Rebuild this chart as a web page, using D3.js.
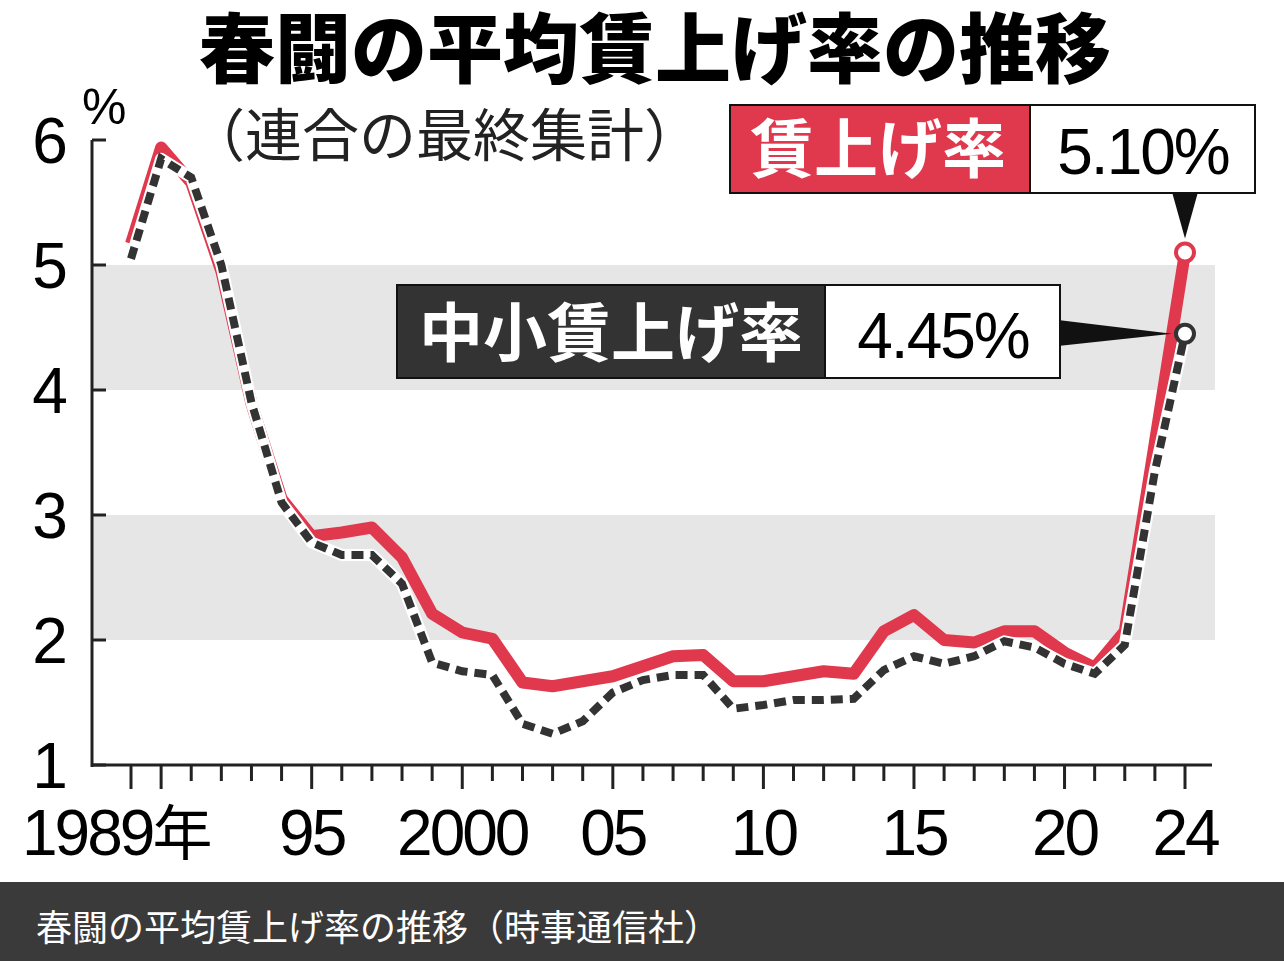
<!DOCTYPE html>
<html><head><meta charset="utf-8">
<script src="https://cdn.jsdelivr.net/npm/d3@7"></script>
<style>body{margin:0;background:#fff}svg{display:block}</style>
</head><body>
<script>
// 連合 最終集計
var years = d3.range(1989, 2025);
var allRates = [5.17,5.94,5.66,4.95,3.89,3.13,2.83,2.86,2.90,2.66,2.21,2.06,2.01,1.66,1.63,1.67,1.71,1.79,1.87,1.88,1.67,1.67,1.71,1.75,1.73,2.07,2.20,2.00,1.98,2.07,2.07,1.90,1.78,2.07,3.58,5.10];
var smeRates = [5.05,5.85,5.70,5.00,3.90,3.10,2.78,2.68,2.68,2.45,1.82,1.75,1.72,1.33,1.25,1.35,1.58,1.68,1.72,1.72,1.45,1.48,1.52,1.52,1.53,1.76,1.87,1.81,1.87,1.99,1.94,1.81,1.73,1.96,3.35,4.45];
var yTicks = [1,2,3,4,5,6];
var bands = [[2,3],[4,5]];
var xLabels = [[1989,"1989年"],[1995,"95"],[2000,"2000"],[2005,"05"],[2010,"10"],[2015,"15"],[2020,"20"],[2024,"24"]];

var W = 1284, H = 961;
var svg = d3.select("body").append("svg").attr("width", W).attr("height", H)
  .style("font-family", "'Noto Sans CJK JP', sans-serif");

var x = d3.scaleLinear().domain([1989, 2024]).range([131, 1185]);
var y = d3.scaleLinear().domain([1, 6]).range([765, 140]);

bands.forEach(function (b) {
  svg.append("rect").attr("x", 92).attr("width", 1215 - 92)
    .attr("y", y(b[1])).attr("height", y(b[0]) - y(b[1])).attr("fill", "#e6e6e6");
});

// axes
svg.append("line").attr("x1", 92).attr("x2", 92).attr("y1", y(6)).attr("y2", y(1) + 2).attr("stroke", "#222").attr("stroke-width", 3);
svg.append("line").attr("x1", 92).attr("x2", 1212).attr("y1", y(1)).attr("y2", y(1)).attr("stroke", "#222").attr("stroke-width", 3);
yTicks.forEach(function (t) {
  svg.append("line").attr("x1", 92).attr("x2", 106).attr("y1", y(t)).attr("y2", y(t)).attr("stroke", "#222").attr("stroke-width", 3);
  svg.append("text").attr("x", 50).attr("y", y(t) + 23).attr("text-anchor", "middle")
    .attr("font-size", 64).attr("font-family", "'Liberation Sans', sans-serif").text(t);
});
years.forEach(function (yr) {
  var long = yr % 5 === 0 || yr === 1989 || yr === 2024;
  svg.append("line").attr("x1", x(yr)).attr("x2", x(yr)).attr("y1", y(1)).attr("y2", y(1) + (long ? 24 : 16))
    .attr("stroke", "#222").attr("stroke-width", 3);
});
xLabels.forEach(function (l) {
  var t = svg.append("text").attr("y", 855).attr("font-size", 64)
    .attr("font-family", "'Liberation Sans', sans-serif").attr("letter-spacing", -3);
  if (l[0] === 1989) {
    t.attr("x", 22).attr("text-anchor", "start");
    t.append("tspan").text("1989");
    t.append("tspan").attr("font-family", "'Noto Sans CJK JP'").attr("font-size", 60).text("年");
  } else {
    t.attr("x", x(l[0])).attr("text-anchor", "middle").text(l[1]);
  }
});

var line = d3.line().x(function (d, i) { return x(years[i]); }).y(function (d) { return y(d); });

// red line
svg.append("path").datum(allRates).attr("d", line).attr("fill", "none")
  .attr("stroke", "#e0384d").attr("stroke-width", 12).attr("stroke-linejoin", "round");
// dashed line with white outline
svg.append("path").datum(smeRates).attr("d", line).attr("fill", "none")
  .attr("stroke", "#fff").attr("stroke-width", 12).attr("stroke-linejoin", "round");
svg.append("path").datum(smeRates).attr("d", line).attr("fill", "none")
  .attr("stroke", "#333").attr("stroke-width", 8).attr("stroke-dasharray", "12,7");

// end points
svg.append("circle").attr("cx", x(2024)).attr("cy", y(5.10)).attr("r", 9).attr("fill", "#fff").attr("stroke", "#e0384d").attr("stroke-width", 4);
svg.append("circle").attr("cx", x(2024)).attr("cy", y(4.45)).attr("r", 9).attr("fill", "#fff").attr("stroke", "#333").attr("stroke-width", 4);

// callouts
svg.append("path").attr("d", "M1172,192 L1198,192 L1185," + (y(5.10) - 14) + "Z").attr("fill", "#111");
svg.append("path").attr("d", "M1058,320 L1058,346 L" + (x(2024) - 13) + "," + y(4.45) + "Z").attr("fill", "#111");

svg.append("rect").attr("x", 730).attr("y", 105).attr("width", 300).attr("height", 88).attr("fill", "#e0384d").attr("stroke", "#111").attr("stroke-width", 2);
svg.append("rect").attr("x", 1030).attr("y", 105).attr("width", 225).attr("height", 88).attr("fill", "#fff").attr("stroke", "#111").attr("stroke-width", 2);
svg.append("text").attr("x", 878).attr("y", 172).attr("text-anchor", "middle").attr("fill", "#fff").attr("font-size", 64).attr("font-weight", 700).text("賃上げ率");
svg.append("text").attr("x", 1143).attr("y", 174).attr("text-anchor", "middle").attr("font-size", 64).attr("font-family", "'Liberation Sans'").attr("letter-spacing", -2).text("5.10%");

svg.append("rect").attr("x", 397).attr("y", 285).attr("width", 428).attr("height", 93).attr("fill", "#333").attr("stroke", "#111").attr("stroke-width", 2);
svg.append("rect").attr("x", 825).attr("y", 285).attr("width", 235).attr("height", 93).attr("fill", "#fff").attr("stroke", "#111").attr("stroke-width", 2);
svg.append("text").attr("x", 611).attr("y", 356).attr("text-anchor", "middle").attr("fill", "#fff").attr("font-size", 64).attr("font-weight", 700).text("中小賃上げ率");
svg.append("text").attr("x", 943).attr("y", 358).attr("text-anchor", "middle").attr("font-size", 64).attr("font-family", "'Liberation Sans'").attr("letter-spacing", -2).text("4.45%");

// titles
svg.append("text").attr("x", 655).attr("y", 77).attr("text-anchor", "middle").attr("font-size", 76).attr("font-weight", 900).text("春闘の平均賃上げ率の推移");
svg.append("text").attr("x", 188).attr("y", 156).attr("font-size", 57).attr("fill", "#222").text("（連合の最終集計）");
svg.append("text").attr("x", 82).attr("y", 124).attr("font-size", 50).attr("font-family", "'Liberation Sans'").text("%");

// footer
svg.append("rect").attr("x", 0).attr("y", 882).attr("width", W).attr("height", H - 882).attr("fill", "#3a3a3a");
svg.append("text").attr("x", 36).attr("y", 941).attr("fill", "#fff").attr("font-size", 36).text("春闘の平均賃上げ率の推移（時事通信社）");
</script>
</body></html>
